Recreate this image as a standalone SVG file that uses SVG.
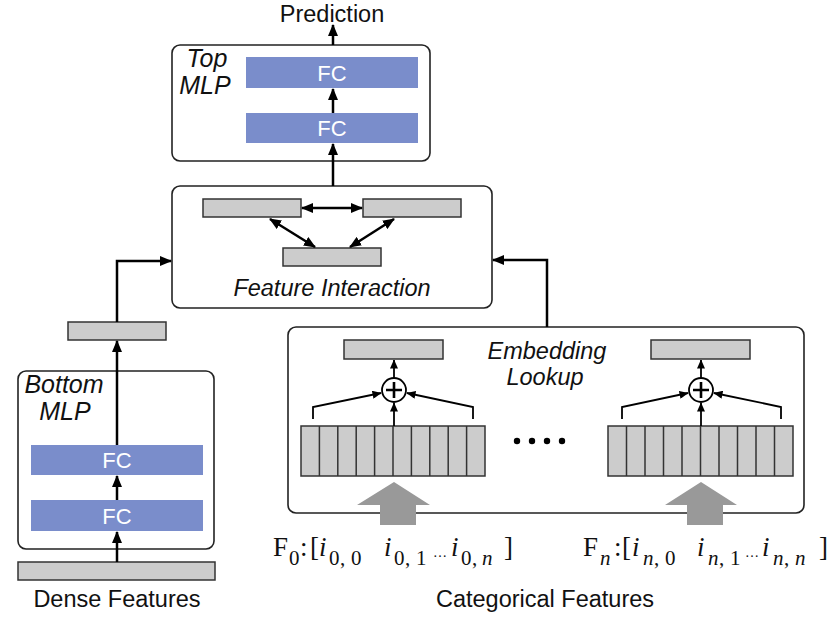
<svg xmlns="http://www.w3.org/2000/svg" width="830" height="617" viewBox="0 0 830 617">
<defs>
<style>
.box{fill:#fff;stroke:#222;stroke-width:1.6}
.fc{fill:#7a8dcb}
.fct{font-family:"Liberation Sans",Arial,sans-serif;font-size:22px;fill:#fff;text-anchor:middle}
.g{fill:#cccccc;stroke:#333;stroke-width:1.5}
.lbl{font-family:"Liberation Sans",Arial,sans-serif;font-size:23.5px;fill:#111}
.it{font-style:italic}
.big-it{font-size:25px}
.c{stroke:#000;stroke-width:2.5;fill:none}
.t{stroke:#000;stroke-width:1.8;fill:none}
.m{font-family:"Liberation Serif","Times New Roman",serif;font-size:27px;fill:#111}
.s{font-family:"Liberation Serif","Times New Roman",serif;font-size:21px;fill:#111}
.d{font-family:"Liberation Serif","Times New Roman",serif;font-size:14px;fill:#111}
.big{fill:#999}
</style>
<marker id="ah" markerUnits="userSpaceOnUse" markerWidth="12" markerHeight="10" refX="11" refY="5" orient="auto-start-reverse"><path d="M0,0 L12,5 L0,10 z" fill="#000"/></marker>
<marker id="as" markerUnits="userSpaceOnUse" markerWidth="9" markerHeight="8" refX="8.5" refY="4" orient="auto-start-reverse"><path d="M0,0 L9,4 L0,8 z" fill="#000"/></marker>
</defs>

<g id="prediction"><text class="lbl" x="332" y="22" text-anchor="middle">Prediction</text></g>

<g id="top-mlp">
<rect class="box" x="172" y="45" width="258" height="116" rx="8"/>
<text class="lbl it big-it" x="207" y="67" text-anchor="middle">Top</text>
<text class="lbl it big-it" x="205" y="94" text-anchor="middle">MLP</text>
<rect class="fc" x="246" y="57" width="172" height="31"/>
<text class="fct" x="332" y="80.5">FC</text>
<rect class="fc" x="246" y="113" width="172" height="30"/>
<text class="fct" x="332" y="136">FC</text>
</g>

<g id="feature-interaction">
<rect class="box" x="172" y="186" width="320" height="122" rx="8"/>
<rect class="g" x="203" y="199" width="98" height="18"/>
<rect class="g" x="363" y="199" width="98" height="18"/>
<rect class="g" x="283" y="248" width="98" height="18"/>
<text class="lbl it" x="332" y="296" text-anchor="middle">Feature Interaction</text>
</g>

<g id="bottom-output"><rect class="g" x="68" y="322" width="98" height="18"/></g>

<g id="bottom-mlp">
<rect class="box" x="18" y="371" width="196" height="178" rx="8"/>
<text class="lbl it big-it" x="64" y="393" text-anchor="middle">Bottom</text>
<text class="lbl it big-it" x="65" y="420" text-anchor="middle">MLP</text>
<rect class="fc" x="31" y="445" width="172" height="30"/>
<text class="fct" x="117" y="468">FC</text>
<rect class="fc" x="31" y="500" width="172" height="31"/>
<text class="fct" x="117" y="523.5">FC</text>
</g>

<g id="dense-features">
<rect class="g" x="18" y="562" width="197" height="18"/>
<text class="lbl" x="117" y="607" text-anchor="middle">Dense Features</text>
</g>

<g id="embedding-lookup">
<rect class="box" x="288" y="327" width="516" height="186" rx="8"/>
<text class="lbl it" x="547" y="359" text-anchor="middle">Embedding</text>
<text class="lbl it" x="545" y="385" text-anchor="middle">Lookup</text>
<rect class="g" x="344" y="340" width="99" height="19"/>
<circle cx="394" cy="390" r="12" fill="#fff" stroke="#000" stroke-width="1.8"/>
<path d="M386,390 H402 M394,382 V398" stroke="#000" stroke-width="2.6"/>
<g>
<rect class="g" x="301" y="426" width="184" height="50"/>
<path d="M319.4,426 V476 M337.8,426 V476 M356.2,426 V476 M374.6,426 V476 M393,426 V476 M411.4,426 V476 M429.8,426 V476 M448.2,426 V476 M466.6,426 V476" stroke="#333" stroke-width="1.5"/>
</g>
<polygon class="big" points="394,482 430,505 416,505 416,525 380,525 380,505 357,505"/>
<g fill="#000"><circle cx="517" cy="441" r="3.2"/><circle cx="532" cy="441" r="3.2"/><circle cx="547" cy="441" r="3.2"/><circle cx="562" cy="441" r="3.2"/></g>
<rect class="g" x="651" y="340" width="99" height="19"/>
<circle cx="701" cy="390" r="12" fill="#fff" stroke="#000" stroke-width="1.8"/>
<path d="M693,390 H709 M701,382 V398" stroke="#000" stroke-width="2.6"/>
<g>
<rect class="g" x="608" y="426" width="185" height="50"/>
<path d="M626.5,426 V476 M645,426 V476 M663.5,426 V476 M682,426 V476 M700.5,426 V476 M719,426 V476 M737.5,426 V476 M756,426 V476 M774.5,426 V476" stroke="#333" stroke-width="1.5"/>
</g>
<polygon class="big" points="701,482 737,505 723,505 723,525 687,525 687,505 665,505"/>
</g>

<g id="categorical-features">
<text class="m" x="273" y="556">F</text><text class="s" x="289" y="565">0</text><text class="m" x="300" y="556">:</text><text class="m" x="310" y="556">[</text>
<text class="m it" x="319" y="556">i</text><text class="s" x="329 340 351" y="565">0,0</text>
<text class="m it" x="384" y="556">i</text><text class="s" x="394 405 416" y="565">0,1</text>
<text class="d" x="433" y="557">…</text>
<text class="m it" x="451" y="556">i</text><text class="s" x="461 472 482" y="565">0,<tspan class="it">n</tspan></text>
<text class="m" x="504" y="556">]</text>

<text class="m" x="583" y="556">F</text><text class="s it" x="600" y="565">n</text><text class="m" x="614" y="556">:</text><text class="m" x="622" y="556">[</text>
<text class="m it" x="632" y="556">i</text><text class="s" x="643 654 665" y="565"><tspan class="it">n</tspan>,0</text>
<text class="m it" x="697" y="556">i</text><text class="s" x="708 719 730" y="565"><tspan class="it">n</tspan>,1</text>
<text class="d" x="745" y="557">…</text>
<text class="m it" x="762" y="556">i</text><text class="s" x="773 784 795" y="565"><tspan class="it">n</tspan>,<tspan class="it">n</tspan></text>
<text class="m" x="819" y="556">]</text>

<text class="lbl" x="545" y="607" text-anchor="middle">Categorical Features</text>
</g>

<g id="connectors">
<line class="c" x1="333" y1="45" x2="333" y2="25" marker-end="url(#ah)"/>
<line class="c" x1="333" y1="113" x2="333" y2="89" marker-end="url(#ah)"/>
<line class="c" x1="333" y1="186" x2="333" y2="144" marker-end="url(#ah)"/>
<line class="c" x1="302" y1="208" x2="362" y2="208" marker-start="url(#ah)" marker-end="url(#ah)"/>
<line class="c" x1="270" y1="219" x2="315" y2="247" marker-start="url(#ah)" marker-end="url(#ah)"/>
<line class="c" x1="394" y1="219" x2="350" y2="247" marker-start="url(#ah)" marker-end="url(#ah)"/>
<polyline class="c" points="117,322 117,261 171,261" marker-end="url(#ah)"/>
<polyline class="c" points="547,327 547,260 493,260" marker-end="url(#ah)"/>
<line class="c" x1="117" y1="445" x2="117" y2="341" marker-end="url(#ah)"/>
<line class="c" x1="117" y1="500" x2="117" y2="476" marker-end="url(#ah)"/>
<line class="c" x1="117" y1="562" x2="117" y2="532" marker-end="url(#ah)"/>
<line class="t" x1="394" y1="378" x2="394" y2="360" marker-end="url(#as)"/>
<line class="t" x1="394" y1="426" x2="394" y2="403" marker-end="url(#as)"/>
<polyline class="t" points="313,419 313,407 381,393" marker-end="url(#as)"/>
<polyline class="t" points="473,419 473,407 407,393" marker-end="url(#as)"/>
<line class="t" x1="701" y1="378" x2="701" y2="360" marker-end="url(#as)"/>
<line class="t" x1="701" y1="426" x2="701" y2="403" marker-end="url(#as)"/>
<polyline class="t" points="622,419 622,407 688,393" marker-end="url(#as)"/>
<polyline class="t" points="781,419 781,407 714,393" marker-end="url(#as)"/>
</g>
</svg>
